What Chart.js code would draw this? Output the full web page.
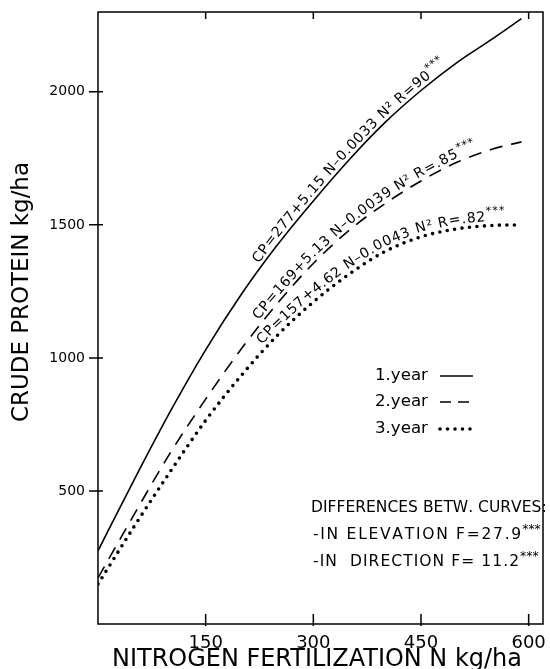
<!DOCTYPE html>
<html lang="en">
<head>
    <meta charset="UTF-8">
    <title>Crude protein vs nitrogen fertilization</title>
    <script src="https://cdn.jsdelivr.net/npm/chart.js"></script>
    <style>
        body { margin: 0; background: #fff; }
        .chart-box { width: 550px; height: 669px; position: relative; }
    </style>
</head>
<body>
<div class="chart-box">
    <canvas id="cpChart"></canvas>
</div>
<script>
    // values (N kg/ha -> crude protein kg/ha)
    const nitrogen = [0, 50, 100, 150, 200, 250, 300, 350, 400, 450, 500, 550, 590];
    const year1 = [275, 540, 795, 1030, 1240, 1425, 1590, 1745, 1885, 2005, 2110, 2200, 2275];
    const year2 = [173, 410, 640, 845, 1035, 1205, 1355, 1480, 1580, 1665, 1735, 1785, 1812];
    const year3 = [150, 365, 570, 765, 935, 1085, 1210, 1315, 1400, 1455, 1485, 1498, 1500];

    const xTicks = [150, 300, 450, 600];
    const yTicks = [500, 1000, 1500, 2000];

    const seriesNames = ['1.year', '2.year', '3.year'];
    const curveLabels = [
        ['CP=277+5.15 N\u20130.0033 N\u00b2 R=90', '***'],
        ['CP=169+5.13 N\u20130.0039 N\u00b2 R=.85', '***'],
        ['CP=157+4.62 N\u20130.0043 N\u00b2 R=.82', '***']
    ];
    const diffLines = [
        ['DIFFERENCES BETW. CURVES:', ''],
        ['-IN ELEVATION F=27.9', '***'],
        ['-IN  DIRECTION F= 11.2', '***']
    ];

    const FONT = '"DejaVu Sans", sans-serif';

    const toPoints = (ys) => nitrogen.map((n, i) => ({ x: n, y: ys[i] }));

    // helpers for writing text along a curve
    function pointAt(pts, s) {
        for (let i = 1; i < pts.length; i++) {
            const a = pts[i - 1], b = pts[i];
            const L = Math.hypot(b.x - a.x, b.y - a.y);
            if (s <= L || i === pts.length - 1) {
                const t = s / L;
                return { x: a.x + (b.x - a.x) * t, y: a.y + (b.y - a.y) * t };
            }
            s -= L;
        }
    }
    function arcAtX(pts, x) {
        let s = 0;
        for (let i = 1; i < pts.length; i++) {
            const a = pts[i - 1], b = pts[i];
            const L = Math.hypot(b.x - a.x, b.y - a.y);
            if (x <= b.x) return s + L * (x - a.x) / (b.x - a.x);
            s += L;
        }
        return s;
    }
    function textAlong(ctx, pts, parts, startX, offset, size) {
        let s = arcAtX(pts, startX);
        parts.forEach((part, k) => {
            const sup = k === 1;
            ctx.font = (sup ? size * 0.8 : size) + 'px ' + FONT;
            for (const ch of part) {
                const w = ctx.measureText(ch).width;
                const c = s + w / 2;
                const p1 = pointAt(pts, c - 10), p2 = pointAt(pts, c + 10), pc = pointAt(pts, c);
                const ang = Math.atan2(p2.y - p1.y, p2.x - p1.x);
                const nx = Math.sin(ang), ny = -Math.cos(ang);
                ctx.save();
                ctx.translate(pc.x + nx * offset, pc.y + ny * offset);
                ctx.rotate(ang);
                ctx.fillText(ch, -w / 2, sup ? -size * 0.45 : 0);
                ctx.restore();
                s += w + 0.7;
            }
        });
    }
    function fitSize(ctx, text, width, size) {
        ctx.font = size + 'px ' + FONT;
        return size * width / ctx.measureText(text).width;
    }
    function fitText(ctx, text, x, y, width, size) {
        const fs = fitSize(ctx, text, width, size);
        ctx.font = fs + 'px ' + FONT;
        ctx.fillText(text, x, y);
        return fs;
    }
    // draw text stretched to a width by spacing the letters out
    function spacedText(ctx, text, x, y, width) {
        let cx = x;
        const natural = ctx.measureText(text).width;
        const gap = (width - natural) / (text.length - 1);
        for (const ch of text) {
            ctx.fillText(ch, cx, y);
            cx += ctx.measureText(ch).width + gap;
        }
        return cx - gap;
    }

    const decorations = {
        id: 'decorations',
        afterDraw(chart) {
            const ctx = chart.ctx;
            const area = chart.chartArea;
            const xs = chart.scales.x, ys = chart.scales.y;
            ctx.save();
            ctx.strokeStyle = '#000';
            ctx.fillStyle = '#000';
            ctx.lineWidth = 1.5;
            ctx.strokeRect(area.left, area.top, area.right - area.left, area.bottom - area.top);

            // tick marks
            ctx.beginPath();
            yTicks.forEach(v => {
                const py = ys.getPixelForValue(v);
                ctx.moveTo(area.left - 9, py); ctx.lineTo(area.left + 5, py);
            });
            xTicks.forEach(v => {
                const px = xs.getPixelForValue(v);
                ctx.moveTo(px, area.bottom + 2); ctx.lineTo(px, area.bottom - 10);
                ctx.moveTo(px, area.top); ctx.lineTo(px, area.top + 7);
            });
            ctx.stroke();

            // equations along the curves
            ctx.textBaseline = 'alphabetic';
            ctx.textAlign = 'left';
            const starts = [262, 262, 266];
            const offsets = [4, 4, 5];
            [0, 1, 2].forEach(i => {
                const pts = chart.getDatasetMeta(i).data.map(p => ({ x: p.x, y: p.y }));
                textAlong(ctx, pts, curveLabels[i], starts[i], offsets[i], 14);
            });

            // legend
            const legendY = [376, 402, 429];
            ctx.textBaseline = 'middle';
            seriesNames.forEach((name, i) => {
                fitText(ctx, name, 375, legendY[i], 53, 14);
                const ds = chart.data.datasets[i];
                ctx.beginPath();
                ctx.lineWidth = ds.borderWidth;
                ctx.lineCap = ds.borderCapStyle || 'butt';
                ctx.setLineDash(i === 0 ? [] : (i === 1 ? [11, 7] : [0, 7.5]));
                ctx.moveTo(440, legendY[i]); ctx.lineTo(473, legendY[i]);
                ctx.stroke();
            });
            ctx.setLineDash([]);

            // test statistics
            const diffY = [508, 535, 562];
            const diffW = [233, 206, 206];
            const fs = fitSize(ctx, diffLines[0][0], 233, 14);
            diffLines.forEach((ln, i) => {
                ctx.font = fs + 'px ' + FONT;
                const x0 = i === 0 ? 311 : 313;
                const end = spacedText(ctx, ln[0], x0, diffY[i], diffW[i]);
                if (ln[1]) {
                    ctx.font = (fs * 0.8) + 'px ' + FONT;
                    ctx.fillText(ln[1], end + 1, diffY[i] - 5);
                }
            });

            // axis titles
            ctx.textBaseline = 'middle';
            ctx.textAlign = 'center';
            fitText(ctx, 'NITROGEN FERTILIZATION N kg/ha', 317, 660, 410, 18);
            ctx.translate(22, 292);
            ctx.rotate(-Math.PI / 2);
            fitText(ctx, 'CRUDE PROTEIN kg/ha', 0, 0, 260, 18);
            ctx.restore();
        }
    };

    new Chart(document.getElementById('cpChart').getContext('2d'), {
        type: 'line',
        data: {
            datasets: [
                { label: seriesNames[0], data: toPoints(year1), borderColor: '#000', borderWidth: 1.6,
                  pointRadius: 0, cubicInterpolationMode: 'monotone' },
                { label: seriesNames[1], data: toPoints(year2), borderColor: '#000', borderWidth: 1.6,
                  borderDash: [13, 9], pointRadius: 0, cubicInterpolationMode: 'monotone' },
                { label: seriesNames[2], data: toPoints(year3), borderColor: '#000', borderWidth: 3.6,
                  borderDash: [0, 7.5], borderCapStyle: 'round', pointRadius: 0, cubicInterpolationMode: 'monotone' }
            ]
        },
        options: {
            responsive: true,
            maintainAspectRatio: false,
            animation: false,
            layout: { padding: { top: 12, right: 7, left: 0, bottom: 0 } },
            plugins: { legend: { display: false }, tooltip: { enabled: false } },
            scales: {
                x: {
                    type: 'linear', min: 0, max: 620,
                    grid: { display: false, drawTicks: false },
                    border: { display: false },
                    afterBuildTicks: (s) => { s.ticks = xTicks.map(v => ({ value: v })); },
                    afterFit: (s) => { s.height = 45; s.paddingLeft = 0; s.paddingRight = 0; },
                    ticks: { color: '#000', padding: 9, maxRotation: 0, callback: (v) => String(v),
                             font: { family: 'DejaVu Sans', size: 18 } }
                },
                y: {
                    min: 0, max: 2300,
                    grid: { display: false, drawTicks: false },
                    border: { display: false },
                    afterBuildTicks: (s) => { s.ticks = yTicks.map(v => ({ value: v })); },
                    afterFit: (s) => { s.width = 98; s.paddingTop = 0; s.paddingBottom = 0; },
                    ticks: { color: '#000', padding: 13, callback: (v) => String(v),
                             font: { family: 'DejaVu Sans', size: 14 } }
                }
            }
        },
        plugins: [decorations]
    });
</script>
</body>
</html>
